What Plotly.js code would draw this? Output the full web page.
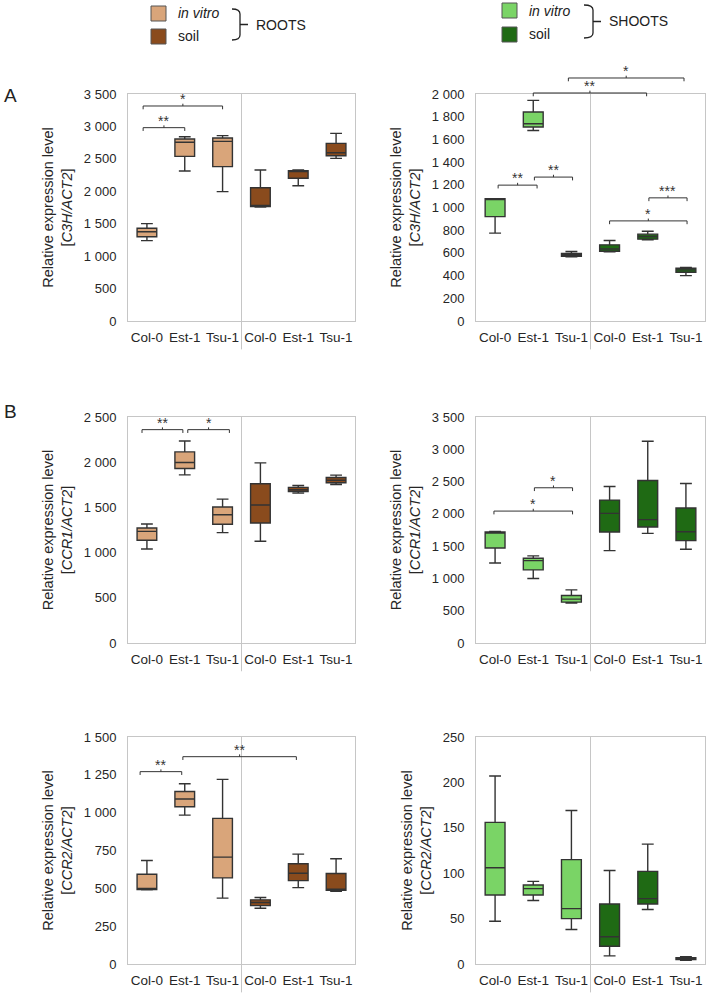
<!DOCTYPE html>
<html>
<head>
<meta charset="utf-8">
<script src="https://cdn.plot.ly/plotly-3.0.1.min.js"></script>
<style>
  html, body { margin: 0; padding: 0; background: #fff; }
  #chart { width: 708px; height: 998px; }
</style>
</head>
<body>
<div id="chart"></div>
<script>
// genotypes, repeated for in vitro and soil
const genotypes = ["Col-0", "Est-1", "Tsu-1"];
const vitroPos = [0, 1, 2];
const soilPos = [3, 4, 5];

// each box: [lower whisker, q1, median, q3, upper whisker]
const c3hRootsVitro = [[1240, 1300, 1377, 1429, 1501], [2313, 2539, 2755, 2806, 2842], [1994, 2380, 2770, 2822, 2858]];
const c3hRootsSoil = [[1757, 1765, 1775, 2055, 2328], [2086, 2200, 2312, 2318, 2328], [2508, 2549, 2595, 2739, 2893]];
const c3hShootsVitro = [[774, 920, 1074, 1078, 1078], [1679, 1709, 1738, 1841, 1944], [566, 570, 582, 595, 612]];
const c3hShootsSoil = [[609, 615, 635, 671, 709], [715, 721, 744, 765, 791], [400, 429, 450, 465, 471]];
const ccr1RootsVitro = [[1040, 1136, 1235, 1272, 1316], [1860, 1930, 1996, 2114, 2235], [1221, 1313, 1419, 1504, 1592]];
const ccr1RootsSoil = [[1125, 1327, 1526, 1761, 1993], [1658, 1676, 1695, 1721, 1743], [1754, 1772, 1801, 1831, 1857]];
const ccr1ShootsVitro = [[1240, 1472, 1709, 1719, 1729], [998, 1132, 1276, 1312, 1349], [618, 633, 679, 736, 823]];
const ccr1ShootsSoil = [[1431, 1719, 2007, 2213, 2424], [1698, 1796, 1910, 2517, 3124], [1451, 1585, 1724, 2090, 2471]];
const ccr2RootsVitro = [[490, 492, 499, 593, 684], [984, 1039, 1090, 1140, 1191], [435, 569, 706, 962, 1220]];
const ccr2RootsSoil = [[368, 386, 406, 424, 439], [505, 551, 600, 662, 726], [481, 487, 494, 598, 695]];
const ccr2ShootsVitro = [[47, 76, 106, 156, 207], [70, 76, 83, 87, 91], [38, 50, 61, 115, 169]];
const ccr2ShootsSoil = [[9, 19.5, 30, 66, 103], [60, 66, 72, 102, 132], [4, 5, 6, 7, 8]];

// significance brackets: [from position, to position, level, label]
const c3hRootsSig = [[-0.1, 1.0, 2981, "**"], [-0.1, 2.0, 3315, "*"]];
const c3hShootsSig = [[1.92, 4.95, 2141, "*"], [1.0, 3.97, 2009, "**"], [0.08, 1.1, 1197, "**"],
  [1.03, 2.03, 1268, "**"], [3.0, 5.03, 882, "*"], [4.03, 5.03, 1085, "***"]];
const ccr1RootsSig = [[-0.13, 0.95, 2360, "**"], [1.08, 2.18, 2360, "*"]];
const ccr1ShootsSig = [[1.03, 2.03, 2404, "*"], [-0.03, 2.03, 2043, "*"]];
const ccr2RootsSig = [[-0.18, 0.92, 1271, "**"], [0.95, 3.95, 1370, "**"]];
const ccr2ShootsSig = [];

const rootColors = ["#D9A57A", "#8A4B1D"];
const shootColors = ["#7AD466", "#1F6A14"];
const W = 708, H = 998;
const px = x => x / W;
const py = y => 1 - y / H;

const leftX = [128, 355], rightX = [476, 705];
const rows = [[94, 321], [417, 643], [737, 964]];

const panels = [
  { gene: "C3H/ACT2", x: leftX, y: rows[0], ymax: 3500, dtick: 500, data: [c3hRootsVitro, c3hRootsSoil], colors: rootColors, sig: c3hRootsSig },
  { gene: "C3H/ACT2", x: rightX, y: rows[0], ymax: 2000, dtick: 200, data: [c3hShootsVitro, c3hShootsSoil], colors: shootColors, sig: c3hShootsSig },
  { gene: "CCR1/ACT2", x: leftX, y: rows[1], ymax: 2500, dtick: 500, data: [ccr1RootsVitro, ccr1RootsSoil], colors: rootColors, sig: ccr1RootsSig },
  { gene: "CCR1/ACT2", x: rightX, y: rows[1], ymax: 3500, dtick: 500, data: [ccr1ShootsVitro, ccr1ShootsSoil], colors: shootColors, sig: ccr1ShootsSig },
  { gene: "CCR2/ACT2", x: leftX, y: rows[2], ymax: 1500, dtick: 250, data: [ccr2RootsVitro, ccr2RootsSoil], colors: rootColors, sig: ccr2RootsSig },
  { gene: "CCR2/ACT2", x: rightX, y: rows[2], ymax: 250, dtick: 50, data: [ccr2ShootsVitro, ccr2ShootsSoil], colors: shootColors, sig: ccr2ShootsSig },
];

const font = "Liberation Sans, Arial, sans-serif";
const traces = [];
const shapes = [];
const annotations = [];
const layout = {
  width: W, height: H,
  margin: { t: 0, r: 0, b: 0, l: 0 },
  paper_bgcolor: "#fff", plot_bgcolor: "#fff",
  showlegend: false,
  boxmode: "overlay",
  separators: ". ",
  font: { family: font, size: 13, color: "#262626" },
};

panels.forEach((p, i) => {
  const n = i === 0 ? "" : String(i + 1);
  const xa = "x" + n, ya = "y" + n;
  const plotH = p.y[1] - p.y[0];

  [vitroPos, soilPos].forEach((pos, g) => {
    const stats = p.data[g];
    traces.push({
      type: "box", xaxis: xa, yaxis: ya, x: pos,
      lowerfence: stats.map(s => s[0]),
      q1: stats.map(s => s[1]),
      median: stats.map(s => s[2]),
      q3: stats.map(s => s[3]),
      upperfence: stats.map(s => s[4]),
      fillcolor: p.colors[g],
      line: { color: "#333", width: 1.4 },
      width: 0.52, whiskerwidth: 0.6,
      boxpoints: false, hoverinfo: "skip",
    });
  });

  layout["xaxis" + n] = {
    domain: [px(p.x[0]), px(p.x[1])], anchor: ya,
    range: [-0.5, 5.5], tickvals: vitroPos.concat(soilPos),
    ticktext: genotypes.concat(genotypes),
    showgrid: false, zeroline: false, ticks: "",
    showline: true, mirror: true, linecolor: "#c6c6c6", linewidth: 1,
    tickfont: { size: 13.5, color: "#262626" }, ticklabelstandoff: 4,
    fixedrange: true,
  };
  layout["yaxis" + n] = {
    domain: [py(p.y[1]), py(p.y[0])], anchor: xa,
    range: [0, p.ymax], dtick: p.dtick, separatethousands: true,
    showgrid: false, zeroline: false, ticks: "",
    showline: true, mirror: true, linecolor: "#c6c6c6", linewidth: 1,
    tickfont: { size: 13, color: "#262626" }, ticklabelstandoff: 8,
    title: { text: "Relative expression level<br>[<i>" + p.gene + "</i>]", font: { size: 14.5, color: "#262626" }, standoff: 7 },
    fixedrange: true,
  };

  // divider between in vitro and soil
  shapes.push({
    type: "line", xref: xa, yref: ya + " domain",
    x0: 2.5, x1: 2.5, y0: -0.125, y1: 1,
    line: { color: "#c6c6c6", width: 1 },
  });

  const tick = 3.3 / plotH;
  p.sig.forEach(([x0, x1, v, label]) => {
    const yf = v / p.ymax;
    const xm = (x0 + x1) / 2;
    shapes.push({
      type: "path", xref: xa, yref: ya + " domain",
      path: `M${x0},${yf - tick} L${x0},${yf} L${x1},${yf} L${x1},${yf - tick} M${xm},${yf} L${xm},${yf + tick * 0.7}`,
      line: { color: "#333", width: 1 },
    });
    annotations.push({
      xref: xa, yref: ya + " domain", x: xm, y: yf,
      text: label, showarrow: false, yanchor: "bottom", yshift: -3,
      font: { size: 14, color: "#333" },
    });
  });
});

// panel letters
annotations.push(
  { xref: "paper", yref: "paper", x: px(2), y: py(95), text: "A", showarrow: false, xanchor: "left", yanchor: "middle", font: { size: 19, color: "#222" } },
  { xref: "paper", yref: "paper", x: px(2), y: py(412), text: "B", showarrow: false, xanchor: "left", yanchor: "middle", font: { size: 19, color: "#222" } },
);

// legends with braces
function legendBlock(colors, sqX, sqY, brX, brY, label) {
  const names = ["<i>in vitro</i>", "soil"];
  sqY.forEach((y, k) => {
    shapes.push({
      type: "rect", xref: "paper", yref: "paper",
      x0: px(sqX), x1: px(sqX + 15), y0: py(y + 15), y1: py(y),
      fillcolor: colors[k], line: { color: "#555", width: 1 },
    });
    annotations.push({
      xref: "paper", yref: "paper", x: px(sqX + 25), y: py(y + 7.5),
      text: names[k], showarrow: false, xanchor: "left", yanchor: "middle",
      font: { size: 14, color: "#222" },
    });
  });
  const [x0, x1] = brX, [y0, y1] = brY, ym = (y0 + y1) / 2;
  shapes.push({
    type: "path", xref: "paper", yref: "paper",
    path: `M${px(x0)},${py(y0)} Q${px(x1)},${py(y0)} ${px(x1)},${py(y0 + 5)} L${px(x1)},${py(y1 - 5)} Q${px(x1)},${py(y1)} ${px(x0)},${py(y1)} M${px(x1)},${py(ym)} L${px(x1 + 8)},${py(ym)}`,
    line: { color: "#222", width: 1.3 },
  });
  annotations.push({
    xref: "paper", yref: "paper", x: px(x1 + 14), y: py(ym),
    text: label, showarrow: false, xanchor: "left", yanchor: "middle",
    font: { size: 14, color: "#222" },
  });
}
legendBlock(rootColors, 151, [6, 29], [232, 240], [9, 40], "ROOTS");
legendBlock(shootColors, 502, [3, 27], [584, 593], [5, 38], "SHOOTS");

layout.shapes = shapes;
layout.annotations = annotations;

Plotly.newPlot("chart", traces, layout, { staticPlot: true });
</script>
</body>
</html>
